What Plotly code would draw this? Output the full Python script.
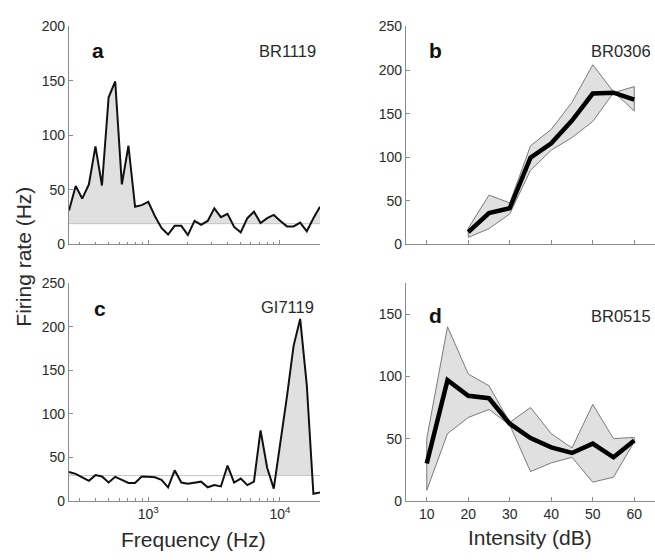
import numpy as np
import plotly.graph_objects as go

# ---------------- data ----------------
freq_hz = [250, 281, 315, 354, 397, 445, 500, 561, 630, 707, 794, 891, 1000, 1122,
           1260, 1414, 1587, 1782, 2000, 2245, 2520, 2828, 3175, 3564, 4000, 4490,
           5040, 5657, 6350, 7127, 8000, 8980, 10079, 11314, 12699, 14254, 16000,
           17959, 20159]

rate_a = [31, 53.5, 42, 55, 90, 54, 135, 149.5, 55, 90.5,
          34.5, 36, 39, 26, 15, 9, 17, 17, 8.5, 21.5,
          18, 21.5, 33, 25, 28, 16, 11, 24, 30, 19.5,
          24, 27, 21.5, 16.5, 16.5, 20, 12, 24, 34.5]
spont_a = 19

rate_c = [33, 31, 27, 23, 29.5, 28, 21, 27.5, 24, 20.5,
          20.5, 28, 27.5, 27, 24, 15.5, 35, 21, 19.5, 20.5,
          22, 15.5, 18, 16.5, 40.5, 21, 25.5, 18, 22, 81,
          38, 14, 65, 120, 178, 209, 133, 8, 9.5]
spont_c = 29

intensity_b = [20, 25, 30, 35, 40, 45, 50, 55, 60]
mean_b = [14, 36, 41.5, 99.5, 116, 142, 173, 174, 166]
upper_b = [18.5, 56.5, 47.5, 113, 132, 163, 206, 175, 153]
lower_b = [8, 18, 35, 85, 108, 122.5, 141, 174, 181]

intensity_d = [10, 15, 20, 25, 30, 35, 40, 45, 50, 55, 60]
mean_d = [30, 97, 84.5, 82.5, 62, 50.5, 43, 38.5, 46, 35, 48.5]
upper_d = [50, 140, 102, 92.5, 63, 75, 54, 42.5, 77.5, 50, 51]
lower_d = [8.5, 54, 67, 73.5, 61, 23.5, 30.5, 35, 15, 19, 47.5]

freq_ticks = [1000, 10000]
freq_ticktext = ["10<sup>3</sup>", "10<sup>4</sup>"]
freq_minor = [300, 400, 500, 600, 700, 800, 900, 2000, 3000, 4000, 5000, 6000,
              7000, 8000, 9000, 20000]
int_ticks = [10, 20, 30, 40, 50, 60]

# ---------------- style ----------------
W, H = 655, 560
FONT = "Liberation Sans, Arial, sans-serif"
AX = "#8a8a8a"
TXT = "#2a2a2a"
FILL = "#e0e0e0"
BAND_EDGE = "#7a7a7a"


def px_x(p):
    return p / W


def px_y(p):
    return 1 - p / H


def clipped_fill(x, y, base):
    """Polygon of the region where the curve lies above the spontaneous rate."""
    lx = np.log10(np.asarray(x, float))
    yy = np.asarray(y, float)
    px, py = [lx[0]], [max(yy[0], base)]
    for i in range(len(yy) - 1):
        y0, y1 = yy[i], yy[i + 1]
        if (y0 - base) * (y1 - base) < 0:
            t = (base - y0) / (y1 - y0)
            px.append(lx[i] + t * (lx[i + 1] - lx[i]))
            py.append(base)
        px.append(lx[i + 1])
        py.append(max(y1, base))
    px += [lx[-1], lx[0]]
    py += [base, base]
    return list(10 ** np.array(px)), py


fig = go.Figure()

# panel a / c : frequency tuning
for xa, ya, rate, spont in (("x", "y", rate_a, spont_a), ("x3", "y3", rate_c, spont_c)):
    fx, fy = clipped_fill(freq_hz, rate, spont)
    fig.add_trace(go.Scatter(x=fx, y=fy, xaxis=xa, yaxis=ya, mode="lines",
                             fill="toself", fillcolor=FILL, line=dict(width=0),
                             hoverinfo="skip", showlegend=False))
    fig.add_trace(go.Scatter(x=[freq_hz[0], freq_hz[-1]], y=[spont, spont],
                             xaxis=xa, yaxis=ya, mode="lines",
                             line=dict(color="#c4c4c4", width=1),
                             hoverinfo="skip", showlegend=False))
    fig.add_trace(go.Scatter(x=freq_hz, y=rate, xaxis=xa, yaxis=ya, mode="lines",
                             line=dict(color="#111111", width=2),
                             showlegend=False))

# panel b / d : rate-level functions
for xa, ya, xs, m, up, lo in (("x2", "y2", intensity_b, mean_b, upper_b, lower_b),
                              ("x4", "y4", intensity_d, mean_d, upper_d, lower_d)):
    fig.add_trace(go.Scatter(x=list(xs) + list(xs)[::-1] + [xs[0]],
                             y=list(up) + list(lo)[::-1] + [up[0]],
                             xaxis=xa, yaxis=ya, mode="lines", fill="toself",
                             fillcolor=FILL, line=dict(color=BAND_EDGE, width=1),
                             hoverinfo="skip", showlegend=False))
    fig.add_trace(go.Scatter(x=xs, y=m, xaxis=xa, yaxis=ya, mode="lines",
                             line=dict(color="#000000", width=4.5),
                             showlegend=False))

common = dict(showline=True, linecolor=AX, linewidth=1.3, ticks="inside",
              ticklen=4, tickcolor=AX, showgrid=False, zeroline=False,
              tickfont=dict(family=FONT, size=14, color=TXT))

xl = [px_x(69), px_x(320)]
xr = [px_x(406), 1.0]
yt = [px_y(243.3), px_y(19)]
yb = [px_y(507.3), px_y(283.3)]

log_range = [np.log10(freq_hz[0]), np.log10(freq_hz[-1])]
minor_log = dict(tickvals=freq_minor, ticks="inside", ticklen=2.5, tickcolor=AX)

fig.update_layout(
    width=W, height=H, margin=dict(l=0, r=0, t=0, b=0),
    paper_bgcolor="white", plot_bgcolor="white",
    font=dict(family=FONT, color=TXT),
    xaxis=dict(common, domain=xl, anchor="y", type="log", range=log_range,
               tickvals=freq_ticks, showticklabels=False, minor=minor_log),
    yaxis=dict(common, domain=yt, anchor="x", range=[0, 200],
               tickvals=[0, 50, 100, 150, 200]),
    xaxis2=dict(common, domain=xr, anchor="y2", range=[5, 65],
                tickvals=int_ticks, showticklabels=False),
    yaxis2=dict(common, domain=yt, anchor="x2", range=[0, 250],
                tickvals=[0, 50, 100, 150, 200, 250]),
    xaxis3=dict(common, domain=xl, anchor="y3", type="log", range=log_range,
                tickvals=freq_ticks, ticktext=freq_ticktext, minor=minor_log),
    yaxis3=dict(common, domain=yb, anchor="x3", range=[0, 250],
                tickvals=[0, 50, 100, 150, 200, 250]),
    xaxis4=dict(common, domain=xr, anchor="y4", range=[5, 65],
                tickvals=int_ticks),
    yaxis4=dict(common, domain=yb, anchor="x4", range=[0, 175],
                tickvals=[0, 50, 100, 150]),
)


def note(text, x, y, size, xanchor="center", bold=False, angle=0):
    fig.add_annotation(text=f"<b>{text}</b>" if bold else text,
                       x=px_x(x), y=px_y(y), xref="paper", yref="paper",
                       xanchor=xanchor, yanchor="middle", showarrow=False,
                       textangle=angle,
                       font=dict(family=FONT, size=size, color="#111111" if bold else TXT))


note("a", 98, 44, 21, bold=True)
note("b", 436, 44, 21, bold=True)
note("c", 100, 309, 21, bold=True)
note("d", 436, 317, 21, bold=True)
note("BR1119", 318, 44, 16.5, xanchor="right")
note("BR0306", 653, 44, 16.5, xanchor="right")
note("GI7119", 316, 308, 16.5, xanchor="right")
note("BR0515", 653, 317, 16.5, xanchor="right")
note("Firing rate (Hz)", 24, 256, 21, angle=-90)
note("Frequency (Hz)", 193, 547, 21)
note("Intensity (dB)", 530, 545, 21)

fig.write_html("out.html",
               config={"displayModeBar": False},
               post_script="document.body.style.margin='0';"
                           "document.body.style.overflow='hidden';")
